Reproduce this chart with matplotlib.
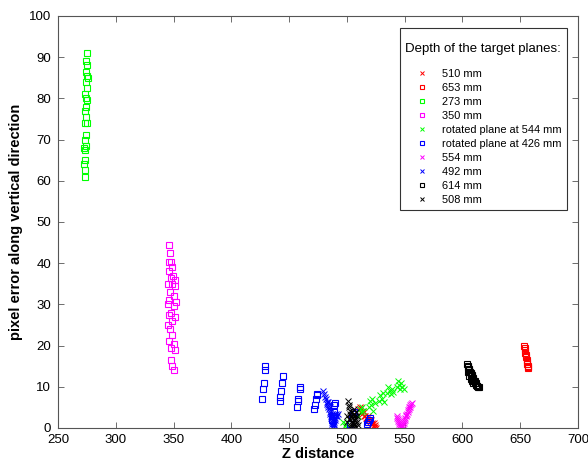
import matplotlib
matplotlib.use("Agg")
import matplotlib.pyplot as plt

plt.rcParams["font.family"] = ["Liberation Sans", "DejaVu Sans"]

# 510 mm (red x)
rx_x = [510, 511, 512, 512.5, 513, 514, 514.5, 515, 516, 516.5, 517, 518, 519, 520, 521, 521.5, 522, 523, 523.5, 524, 524.5, 525]
rx_y = [4.5, 5, 4, 4.8, 3.5, 4.2, 3, 3.8, 3, 2.5, 2.2, 3, 2, 1.5, 2, 1.2, 1, 0.5, 1.3, 0.3, 0.8, 0]

# 653 mm (red squares)
rs_x = [653.5, 654, 654, 654.5, 655, 655, 655.5, 656, 656, 656.5, 657, 657]
rs_y = [20, 19.5, 19, 18.3, 17.8, 17.2, 16.5, 16, 15.5, 15, 14.8, 14.5]

# 273 mm (green squares)
gs_x = [275, 274.5, 275.5, 274, 275, 276, 274, 275, 273.5, 274.5, 275.5, 274, 273.5,
        274, 275, 273, 274, 273.5, 274, 272.5, 273, 273, 272.5, 273, 273]
gs_y = [91, 89, 88, 86.5, 85.5, 85, 84, 82.5, 81, 80, 79.5, 78, 77,
        75.5, 74, 74, 71, 70, 68.5, 68, 67.5, 65, 64, 62.5, 61]

# 350 mm (magenta squares)
ms_x = [346, 347, 346.5, 348, 349, 346, 349.5, 348, 351, 345.5, 349, 351.5, 347, 350, 346.5, 352,
        345, 350.5, 347.5, 346, 351, 349, 345, 347, 349, 346.5, 350, 348, 351, 347.5, 349, 350]
ms_y = [44.5, 42.5, 40.3, 40.3, 39, 38, 37, 36.5, 36, 35, 35, 34.5, 33, 32, 31, 30.5,
        30, 29.5, 28, 27.5, 27, 26, 25, 24, 22.5, 21, 20.5, 19.5, 19, 16.5, 15, 14]

# rotated plane at 544 mm (green x)
gx_x = [497, 498, 499, 500, 510, 511, 512, 513, 514, 519, 520, 521, 522, 523, 524,
        528, 529, 530, 531, 532, 535, 536, 537, 538, 539, 540, 543, 544, 545, 546, 547, 548, 549]
gx_y = [1.5, 0.5, 1, 0, 3, 4.5, 3.8, 5, 4.2, 5, 6.5, 5.5, 7, 4.2, 6,
        6.5, 8, 7, 8.5, 6.3, 8.5, 10, 9, 8.2, 9.5, 8.8, 10, 11.5, 10.5, 9.5, 11, 10, 9.5]

# rotated plane at 426 mm (blue squares)
bs_x = [426.5, 427, 428, 429, 429.5, 442, 442.5, 443, 444, 445, 457, 457.5, 458, 459, 459.5,
        471.5, 472, 473, 474, 474.5, 487, 488, 488.5, 489, 489.5, 503, 504, 505, 506, 517, 518, 519, 520]
bs_y = [7, 9.5, 11, 14, 15, 6.5, 7.5, 9, 11, 12.5, 5, 6.5, 7, 9.5, 10,
        4.5, 5.5, 7, 8, 8.2, 2, 3, 4, 5.5, 6, 1, 2.5, 3.5, 4, 1, 1.5, 2, 2.5]

# 554 mm (magenta x)
mx_x = [543, 543.5, 544, 544.5, 545, 545.5, 546, 546, 546.5, 547, 547.5, 548, 548.5, 549,
        549.5, 550, 550.5, 551, 551.5, 552, 552.5, 553, 553.5, 554, 554.5, 555, 555.5, 556]
mx_y = [3, 2.5, 2.2, 1.8, 1.5, 1, 0.7, 0.3, 0, 0.2, 0.5, 0.8, 1, 1.3,
        1.7, 2, 2.4, 2.8, 3.2, 3.5, 3.9, 4.3, 4.6, 5, 5.2, 5.5, 5.8, 6]

# 492 mm (blue x)
bx_x = [479.5, 480.5, 481, 482, 482.5, 483, 483.5, 484, 484.5, 485, 485.5, 486, 486.5, 487, 487, 487.5,
        488, 488, 488.5, 489, 489.5, 490, 490.5, 491, 491.5, 492, 484, 485, 486, 487, 488, 489]
bx_y = [9, 8.3, 7.5, 7, 6.3, 5.8, 5.5, 5, 4.5, 4, 3.5, 3, 2.5, 2, 1.5, 1,
        0.5, 0, 0.8, 1.5, 2, 2.5, 3, 3.3, 2.8, 3.5, 6.2, 5.2, 4.2, 3.3, 2.2, 1]

# 614 mm (black squares)
ks_x = [604, 604.5, 605, 605.5, 606, 606.5, 607, 607.5, 608, 608.5, 609, 609.5, 610, 610.5,
        611, 611.5, 612, 612.5, 613, 613.5, 614, 605, 606, 607, 608, 609]
ks_y = [15.5, 15, 14.8, 14.3, 14, 13.7, 13.3, 13, 12.8, 12.5, 12.2, 11.8, 11.5, 11.3,
        11, 10.8, 10.5, 10.3, 10.1, 10, 10, 13.5, 12.5, 12, 11.3, 11]

# 508 mm (black x)
kx_x = [501, 501.5, 502, 502.5, 503, 503.5, 504, 504, 504.5, 505, 505, 505.5, 506, 506, 506.5,
        507, 507.5, 508, 508, 508.5, 509, 509.5, 500, 500.5, 503, 505, 507, 502, 504, 506]
kx_y = [6.5, 5.5, 5, 4.2, 3.5, 3, 2.5, 4, 1.8, 1.2, 3.2, 0.5, 2, 4.5, 1,
        3, 0.3, 2.2, 3.8, 1.5, 2.8, 0.8, 1.5, 3, 0.2, 0, 0.5, 2.2, 1.2, 3.5]

series = [
    (rx_x, rx_y, "x", "red", "510 mm"),
    (rs_x, rs_y, "s", "red", "653 mm"),
    (gs_x, gs_y, "s", "#00ff00", "273 mm"),
    (ms_x, ms_y, "s", "magenta", "350 mm"),
    (gx_x, gx_y, "x", "#00ff00", "rotated plane at 544 mm"),
    (bs_x, bs_y, "s", "blue", "rotated plane at 426 mm"),
    (mx_x, mx_y, "x", "magenta", "554 mm"),
    (bx_x, bx_y, "x", "blue", "492 mm"),
    (ks_x, ks_y, "s", "black", "614 mm"),
    (kx_x, kx_y, "x", "black", "508 mm"),
]

fig = plt.figure(figsize=(5.88, 4.68), dpi=100)
ax = fig.add_axes([0.0986, 0.0855, 0.8844, 0.8805])

for x, y, m, c, lab in series:
    if m == "s":
        ax.plot(x, y, ls="none", marker="s", ms=4.2, color=c, mfc="none", mec=c,
                mew=0.8, label=lab)
    else:
        ax.plot(x, y, ls="none", marker="x", ms=4.5, color=c, mec=c, mew=0.7, label=lab)

ax.set_xlim(250, 700)
ax.set_ylim(0, 100)
ax.set_xticks(range(250, 701, 50))
ax.set_yticks(range(0, 101, 10))
ax.tick_params(direction="in", top=True, right=True, labelsize=9.5, length=4,
               color="#555555", width=0.6)
ax.tick_params(axis="y", pad=5)
ax.tick_params(axis="x", pad=4)
for s in ax.spines.values():
    s.set_color("#555555")
    s.set_linewidth(0.8)

ax.set_xlabel("Z distance", fontsize=10.5, fontweight="bold", labelpad=1)
ax.set_ylabel("pixel error along vertical direction", fontsize=10.5,
              fontweight="bold", labelpad=4)

leg = ax.legend(title="\nDepth of the target planes:", loc="upper right",
                bbox_to_anchor=(0.979, 0.971), borderaxespad=0, fontsize=7.9,
                title_fontsize=9.5, fancybox=False, edgecolor="black",
                handlelength=3.0, handletextpad=0.35, labelspacing=0.36,
                borderpad=0.5, markerscale=0.75)
leg.get_frame().set_linewidth(0.8)
leg.get_title().set_linespacing(0.75)
leg._legend_box.align = "left"
leg._legend_box.sep = 10

fig.savefig("out.png", dpi=100)
